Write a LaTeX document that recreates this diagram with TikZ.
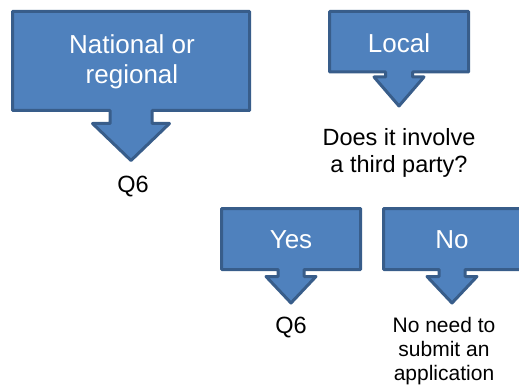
\documentclass[tikz,border=0pt]{standalone}
\usepackage{fontspec}
\setmainfont{Liberation Sans}
\definecolor{cofill}{HTML}{4F81BD}
\definecolor{coline}{HTML}{385D8A}
\tikzset{
  callout/.style={fill=cofill, draw=coline, line width=3pt, line join=round},
  wtext/.style={text=white, font=\fontsize{26}{30}\selectfont, align=center, inner sep=0pt},
  btext/.style={text=black, font=\fontsize{23.5}{27}\selectfont, align=center, inner sep=0pt},
  stext/.style={text=black, font=\fontsize{21}{24}\selectfont, align=center, inner sep=0pt},
}
% #1 cx, #2 left, #3 right, #4 top, #5 bottom, #6 stem half, #7 wing half, #8 wing y, #9 tip y
\newcommand\dncallout[9]{%
  \draw[callout] (#2,#4) -- (#3,#4) -- (#3,#5) -- ({#1+#6},#5) -- ({#1+#6},#8)
    -- ({#1+#7},#8) -- (#1,#9) -- ({#1-#7},#8) -- ({#1-#6},#8) -- ({#1-#6},#5)
    -- (#2,#5) -- cycle;}
\begin{document}
\begin{tikzpicture}[x=1pt,y=-1pt]
\useasboundingbox (0,0) rectangle (519,385);
\clip (0,0) rectangle (519,385);
% shapes
\dncallout{131}{12.5}{249.5}{11.5}{110.5}{21}{38.5}{123.5}{160.5}
\dncallout{399}{329.5}{468.5}{11.5}{72}{13.5}{25}{77}{106}
\dncallout{291}{221.5}{360.5}{208.5}{269.5}{13}{25}{276.5}{303}
\dncallout{452}{383.5}{522.5}{208.5}{269.5}{13}{25}{276.5}{303}
% texts
\node[wtext] (nat) at (132,62) {National or\\regional};
\node[btext] (q6a) at (133,187) {Q6};
\node[wtext] (loc) at (399,43) {Local};
\node[btext] (q) at (399,153) {Does it involve\\a third party?};
\node[wtext] (yes) at (291,240) {Yes};
\node[btext] (q6b) at (291,328) {Q6};
\node[wtext] (no) at (452,240) {No};
\node[stext] (nn) at (444,351) {No need to\\submit an\\application};
\end{tikzpicture}
\end{document}
